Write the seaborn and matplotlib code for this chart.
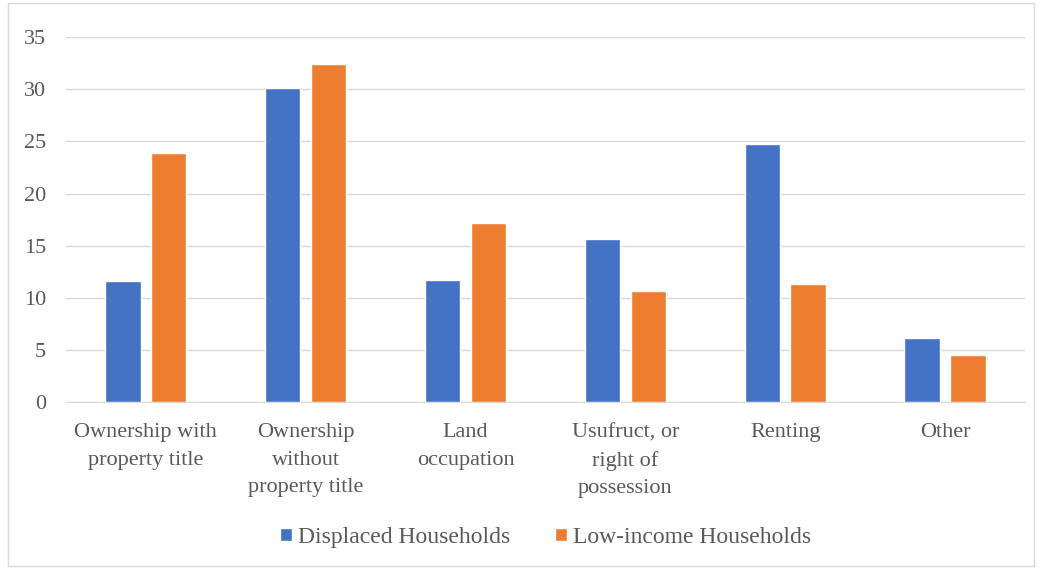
# %%

import pandas as pd
import numpy as np
import matplotlib.pyplot as plt
import seaborn as sns
from matplotlib.patches import Rectangle

# %%

categories = ['Ownership with\nproperty title',
              'Ownership\nwithout\nproperty title',
              'Land\noccupation',
              'Usufruct, or\nright of\npossession',
              'Renting',
              'Other']
displaced = [11.6, 30.1, 11.7, 15.6, 24.7, 6.2]
low_income = [23.9, 32.4, 17.2, 10.7, 11.3, 4.5]
series_names = ['Displaced Households', 'Low-income Households']

df = pd.DataFrame({
    'category': categories * 2,
    'value': displaced + low_income,
    'group': [series_names[0]] * len(categories) + [series_names[1]] * len(categories),
})

# %%

sns.set_style('white')
plt.rcParams['font.family'] = ['Liberation Serif', 'DejaVu Serif']
text_color = '#595959'

fig = plt.figure(figsize=(10.41, 5.69), dpi=100)
ax = fig.add_axes([0.063, 0.293, 0.922, 0.642])

sns.barplot(data=df, x='category', y='value', hue='group',
            palette=['#4472C4', '#ED7D31'],
            width=0.575, gap=0.22, ax=ax, saturation=1)

ax.set_ylim(0, 35)
ax.set_yticks(range(0, 36, 5))
ax.set_xlim(-0.5, len(categories) - 0.5)
ax.yaxis.grid(True, color='#d9d9d9', linewidth=1)
ax.set_axisbelow(True)
for side in ['top', 'right', 'left']:
    ax.spines[side].set_visible(False)
ax.spines['bottom'].set_color('#d9d9d9')
ax.tick_params(axis='both', length=0, labelsize=16, labelcolor=text_color)
ax.tick_params(axis='y', pad=14)
ax.tick_params(axis='x', pad=15)
ax.set_xlabel('')
ax.set_ylabel('')
for lbl in ax.get_xticklabels():
    lbl.set_linespacing(1.6)

ax.legend(loc='center', bbox_to_anchor=(0.5, -0.37), ncol=2, frameon=False,
          fontsize=17, labelcolor=text_color, handlelength=0.5,
          handleheight=0.5, handletextpad=0.25, columnspacing=1.9)

fig.patches.append(Rectangle((0.008, 0.006), 0.985, 0.988,
                             transform=fig.transFigure, fill=False,
                             edgecolor='#d9d9d9', linewidth=1))

plt.savefig('out.png', dpi=100)
